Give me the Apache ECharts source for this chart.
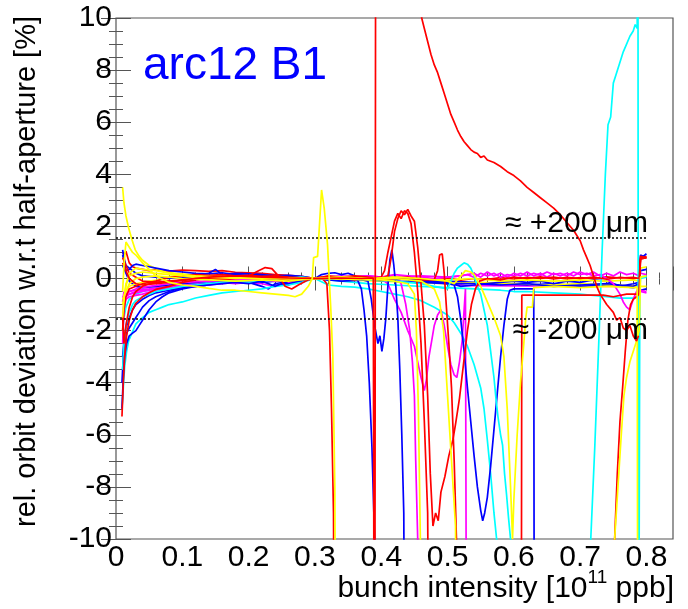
<!DOCTYPE html>
<html><head><meta charset="utf-8">
<script src="https://cdn.jsdelivr.net/npm/echarts@6/dist/echarts.min.js"></script>
<style>html,body{margin:0;padding:0;background:#fff}#c{width:688px;height:609px}</style>
</head><body><div id="c"></div>
<script>
// ---------- data (x = bunch intensity [1e11 ppb], y = rel. orbit deviation [%]) ----------
const xTicks = [0, 0.1, 0.2, 0.3, 0.4, 0.5, 0.6, 0.7, 0.8];
const yTicks = [-10, -8, -6, -4, -2, 0, 2, 4, 6, 8, 10];
const thresholds = [1.55, -1.55];
const thresholdEnd = 0.8;
const thresholdLabels = ['\u2248 +200 \u03bcm', '\u2248 -200 \u03bcm'];

const red1 = [[0.01,0.6],[0.015,0.3],[0.02,0.0],[0.03,-0.2],[0.04,-0.25],[0.06,-0.2],[0.08,-0.15],[0.1,-0.05],[0.14,0.05],[0.18,0.1],[0.22,0.05],[0.26,0.02],[0.3,0.0],[0.34,0.02],[0.37,0.0],[0.388,0.02],[0.39,-25],[0.392,25],[0.455,12],[0.461,10],[0.465,9.6],[0.47,9.1],[0.475,8.6],[0.48,8.2],[0.485,7.9],[0.49,7.5],[0.495,7.1],[0.5,6.7],[0.505,6.3],[0.51,6.0],[0.515,5.7],[0.52,5.45],[0.525,5.25],[0.53,5.1],[0.535,4.95],[0.54,4.85],[0.545,4.8],[0.55,4.65],[0.555,4.7],[0.56,4.55],[0.57,4.45],[0.58,4.3],[0.59,4.1],[0.6,3.95],[0.61,3.75],[0.62,3.5],[0.63,3.3],[0.64,3.1],[0.65,2.9],[0.66,2.7],[0.67,2.45],[0.68,2.15],[0.69,1.85],[0.7,1.45],[0.705,1.1],[0.71,0.8],[0.715,0.5],[0.72,0.1],[0.725,-0.3],[0.73,-0.6],[0.74,-1.0],[0.75,-1.3],[0.755,-1.6],[0.76,-1.5],[0.765,-1.9],[0.77,-2.0],[0.775,-1.8],[0.78,-2.2],[0.785,-2.4],[0.788,-2.2]];
const red2 = [[0.009,-5.3],[0.011,-4.0],[0.013,-3.0],[0.016,-2.2],[0.02,-1.6],[0.025,-1.2],[0.03,-0.95],[0.04,-0.7],[0.05,-0.55],[0.06,-0.42],[0.08,-0.3],[0.1,-0.15],[0.12,-0.05],[0.14,0.0],[0.16,0.03],[0.18,0.05],[0.2,0.1],[0.215,0.3],[0.225,0.42],[0.235,0.38],[0.245,0.1],[0.255,-0.3],[0.265,-0.4],[0.275,-0.25],[0.29,-0.05],[0.3,0.0],[0.32,0.1],[0.34,0.05],[0.36,0.1],[0.38,0.05],[0.4,0.0],[0.41,0.1],[0.415,0.8],[0.42,1.8],[0.425,2.3],[0.43,2.6],[0.435,2.45],[0.44,2.65],[0.445,2.4],[0.45,2.2],[0.455,1.2],[0.46,-0.2],[0.465,-1.8],[0.47,-4.5],[0.474,-7.5],[0.478,-9.5],[0.482,-9.0],[0.486,-9.3],[0.49,-8.2],[0.496,-7.6],[0.502,-6.8],[0.508,-6.2],[0.512,-5.6],[0.518,-4.6],[0.524,-3.3],[0.53,-2.0],[0.536,-1.0],[0.542,-0.4],[0.548,-0.1],[0.56,0.0],[0.58,-0.05],[0.6,0.05],[0.62,0.0],[0.64,0.06],[0.66,-0.02],[0.68,0.04],[0.7,0.0],[0.72,0.05],[0.74,-0.03],[0.76,0.04],[0.78,0.0],[0.789,0.02],[0.791,0.75],[0.8,0.8]];
const red3 = [[0.01,0.8],[0.015,0.5],[0.02,0.2],[0.03,0.05],[0.04,-0.1],[0.06,-0.15],[0.08,-0.1],[0.1,-0.05],[0.14,0.0],[0.18,0.02],[0.22,0.0],[0.26,0.03],[0.3,0.0],[0.34,0.02],[0.38,-0.02],[0.4,0.05],[0.405,0.3],[0.41,1.0],[0.415,1.6],[0.42,2.2],[0.425,2.5],[0.43,2.3],[0.435,2.6],[0.44,2.5],[0.445,2.1],[0.45,1.0],[0.455,-0.5],[0.46,-2.5],[0.465,-5.5],[0.47,-9],[0.473,-20]];
const red4 = [[0.01,-2.0],[0.012,-1.2],[0.015,-0.7],[0.02,-0.4],[0.03,-0.3],[0.04,-0.2],[0.06,-0.1],[0.08,0.05],[0.1,0.1],[0.12,0.15],[0.14,0.12],[0.16,0.15],[0.18,0.1],[0.2,0.12],[0.22,0.08],[0.24,0.1],[0.26,0.05],[0.28,0.02],[0.3,0.0],[0.32,0.05],[0.34,-0.02],[0.36,0.03],[0.38,0.0],[0.4,-0.05],[0.42,0.0],[0.44,0.05],[0.46,-0.05],[0.48,-0.05],[0.485,0.3],[0.488,0.9],[0.492,0.95],[0.495,0.2],[0.498,-1.0],[0.502,-2.5],[0.506,-4.2],[0.51,-7],[0.514,-10.5],[0.516,-20],[0.611,-20],[0.612,-0.64],[0.735,-0.64],[0.75,-0.7],[0.77,-0.6],[0.789,-0.6],[0.791,0.85],[0.8,0.8]];
const red5 = [[0.01,-1.5],[0.012,-2.5],[0.015,-1.8],[0.02,-1.1],[0.025,-0.7],[0.03,-0.5],[0.04,-0.3],[0.05,-0.2],[0.06,-0.15],[0.08,-0.1],[0.1,-0.08],[0.12,0.0],[0.14,0.02],[0.16,-0.05],[0.18,0.0],[0.2,0.03],[0.22,-0.02],[0.24,0.0],[0.26,-0.05],[0.28,0.0],[0.3,0.02],[0.31,0.05],[0.318,-0.2],[0.322,-2],[0.325,-5],[0.328,-9],[0.33,-20],[0.75,-20],[0.752,-10],[0.756,-7.5],[0.76,-5.5],[0.764,-4.2],[0.768,-2.8],[0.772,-1.6],[0.776,-1.0],[0.78,-0.8],[0.785,-0.7],[0.789,-0.6],[0.791,0.75],[0.8,0.8]];
const red6 = [[0.01,1.0],[0.012,0.9],[0.015,1.05],[0.02,0.6],[0.025,0.45],[0.03,0.4],[0.04,0.35],[0.05,0.3],[0.06,0.33],[0.08,0.28],[0.1,0.32],[0.12,0.3],[0.14,0.27],[0.16,0.3],[0.18,0.24],[0.2,0.22],[0.22,0.2],[0.24,0.15],[0.26,0.12],[0.28,0.08],[0.3,0.0],[0.32,-0.02],[0.34,0.03],[0.36,-0.05],[0.38,0.02],[0.4,-0.03],[0.42,0.05],[0.44,-0.02],[0.46,0.0],[0.48,-0.05],[0.5,0.02],[0.52,-0.06],[0.54,0.0],[0.56,-0.03],[0.58,0.03],[0.6,-0.02],[0.62,0.04],[0.64,0.0],[0.66,0.05],[0.68,-0.02],[0.7,0.03],[0.72,0.0],[0.74,0.06],[0.76,0.02],[0.78,0.04],[0.789,0.0],[0.791,0.8],[0.8,0.85]];

const blue1 = [[0.01,0.9],[0.012,0.7],[0.015,0.3],[0.02,0.35],[0.025,0.5],[0.03,0.55],[0.04,0.5],[0.05,0.45],[0.06,0.4],[0.08,0.3],[0.1,0.25],[0.12,0.2],[0.14,0.18],[0.16,0.22],[0.18,0.15],[0.2,0.12],[0.22,0.1],[0.24,0.05],[0.26,0.08],[0.28,0.02],[0.3,0.0],[0.31,0.15],[0.32,0.2],[0.33,0.22],[0.34,0.15],[0.35,0.2],[0.36,0.1],[0.365,-0.1],[0.37,-0.4],[0.374,-1.2],[0.378,-2.2],[0.382,-4],[0.386,-6.5],[0.39,-10],[0.392,-20]];
const blue2 = [[0.009,-5.0],[0.011,-3.8],[0.013,-3.0],[0.016,-2.5],[0.02,-2.2],[0.025,-2.1],[0.03,-2.0],[0.035,-1.8],[0.04,-1.6],[0.05,-1.2],[0.06,-0.9],[0.07,-0.7],[0.08,-0.55],[0.1,-0.4],[0.12,-0.3],[0.14,-0.25],[0.16,-0.2],[0.18,-0.15],[0.2,-0.2],[0.22,-0.1],[0.24,-0.3],[0.25,-0.2],[0.26,-0.1],[0.28,-0.05],[0.3,0.0],[0.32,0.05],[0.34,0.0],[0.36,0.02],[0.38,-0.1],[0.385,-0.8],[0.39,-1.8],[0.395,-2.5],[0.398,-2.2],[0.401,-2.8],[0.404,-2.3],[0.407,-1.5],[0.41,-0.3],[0.413,0.7],[0.416,1.1],[0.419,0.5],[0.422,-0.3],[0.425,-1.5],[0.428,-3.5],[0.431,-6],[0.434,-9],[0.436,-20]];
const blue3 = [[0.01,-3.0],[0.012,-2.4],[0.015,-1.9],[0.02,-1.5],[0.025,-1.2],[0.03,-1.0],[0.04,-0.8],[0.05,-0.65],[0.06,-0.55],[0.08,-0.45],[0.1,-0.35],[0.12,-0.25],[0.14,-0.2],[0.16,-0.1],[0.18,-0.05],[0.2,0.0],[0.22,0.05],[0.24,0.02],[0.26,0.06],[0.28,0.03],[0.3,0.0],[0.34,0.05],[0.38,0.02],[0.42,0.0],[0.46,-0.1],[0.48,-0.15],[0.5,-0.2],[0.51,-0.25],[0.515,-0.7],[0.52,-1.6],[0.525,-2.8],[0.53,-4.2],[0.535,-5.5],[0.54,-6.8],[0.545,-8.0],[0.55,-8.9],[0.553,-9.3],[0.556,-9.0],[0.56,-8.4],[0.565,-7.2],[0.57,-5.8],[0.575,-4.4],[0.58,-3.0],[0.585,-1.8],[0.59,-0.8],[0.594,-0.45],[0.6,-0.4],[0.63,-0.4],[0.631,-20]];
const blue4 = [[0.01,1.1],[0.012,0.8],[0.015,0.5],[0.02,0.4],[0.03,0.2],[0.04,0.1],[0.06,0.05],[0.08,0.0],[0.1,0.05],[0.12,0.1],[0.14,0.2],[0.15,0.35],[0.16,0.15],[0.18,0.2],[0.2,0.18],[0.22,0.15],[0.24,0.1],[0.26,0.12],[0.28,0.08],[0.3,0.0],[0.32,-0.05],[0.34,0.05],[0.36,0.0],[0.38,-0.05],[0.4,0.0],[0.42,-0.05],[0.44,0.0],[0.46,-0.05],[0.48,-0.1],[0.5,-0.15],[0.52,-0.3],[0.54,-0.25],[0.56,-0.2],[0.58,-0.15],[0.6,-0.1],[0.62,-0.15],[0.64,-0.1],[0.66,-0.2],[0.68,-0.1],[0.7,-0.15],[0.72,-0.05],[0.74,-0.1],[0.76,-0.3],[0.78,-0.2],[0.789,-0.15],[0.791,0.9],[0.795,0.85],[0.8,0.95]];
const blue5 = [[0.009,-4.0],[0.011,-3.0],[0.013,-2.5],[0.016,-2.1],[0.02,-1.9],[0.025,-1.7],[0.03,-1.5],[0.035,-1.3],[0.04,-1.1],[0.05,-0.85],[0.06,-0.7],[0.08,-0.5],[0.1,-0.35],[0.12,-0.3],[0.14,-0.25],[0.16,-0.15],[0.18,-0.1],[0.2,-0.15],[0.22,-0.3],[0.23,-0.4],[0.24,-0.2],[0.26,-0.25],[0.28,-0.05],[0.3,0.0],[0.34,-0.1],[0.38,-0.05],[0.42,-0.1],[0.46,-0.15],[0.5,-0.2],[0.54,-0.2],[0.58,-0.25],[0.62,-0.2],[0.66,-0.3],[0.7,-0.25],[0.74,-0.2],[0.76,-0.25],[0.78,-0.3],[0.789,-0.2],[0.791,0.3],[0.8,0.35]];
const blue6 = [[0.01,0.5],[0.015,0.2],[0.02,-0.1],[0.03,-0.3],[0.04,-0.35],[0.06,-0.3],[0.08,-0.25],[0.1,-0.2],[0.12,-0.15],[0.14,-0.1],[0.16,-0.05],[0.18,0.0],[0.2,-0.05],[0.22,-0.15],[0.24,-0.1],[0.26,-0.2],[0.28,-0.1],[0.3,0.0],[0.34,0.0],[0.38,-0.05],[0.42,0.0],[0.46,-0.05],[0.5,-0.1],[0.54,-0.15],[0.58,-0.2],[0.62,-0.25],[0.66,-0.2],[0.7,-0.3],[0.74,-0.25],[0.78,-0.35],[0.789,-0.3],[0.791,-0.45],[0.8,-0.4]];

const yellow1 = [[0.01,3.5],[0.012,2.9],[0.015,2.4],[0.019,1.95],[0.024,1.5],[0.029,1.1],[0.035,0.85],[0.04,0.7],[0.05,0.5],[0.06,0.38],[0.075,0.25],[0.09,0.2],[0.11,0.15],[0.13,0.12],[0.16,0.1],[0.2,0.08],[0.24,0.05],[0.28,0.03],[0.3,0.0],[0.34,0.0],[0.38,-0.05],[0.42,0.05],[0.46,0.0],[0.5,-0.05],[0.54,0.0],[0.58,-0.1],[0.62,-0.05],[0.66,-0.1],[0.7,-0.05],[0.74,-0.1],[0.78,-0.05],[0.789,-0.1],[0.791,0.4],[0.8,0.45]];
const yellow2 = [[0.01,-0.5],[0.012,0.5],[0.015,1.4],[0.02,1.2],[0.025,1.0],[0.03,0.9],[0.04,0.6],[0.05,0.35],[0.06,0.1],[0.08,-0.15],[0.1,-0.25],[0.12,-0.3],[0.14,-0.38],[0.16,-0.45],[0.18,-0.45],[0.2,-0.5],[0.22,-0.55],[0.24,-0.6],[0.26,-0.65],[0.27,-0.7],[0.28,-0.6],[0.29,-0.3],[0.296,0.0],[0.298,0.8],[0.304,0.85],[0.31,3.4],[0.314,2.7],[0.319,1.3],[0.324,-1.2],[0.327,-3],[0.33,-8],[0.332,-20]];
const yellow3 = [[0.01,-1.0],[0.015,-0.3],[0.02,0.2],[0.03,0.4],[0.04,0.35],[0.06,0.3],[0.08,0.2],[0.1,0.15],[0.12,0.1],[0.16,0.05],[0.2,0.05],[0.24,0.0],[0.28,0.02],[0.3,0.0],[0.34,0.05],[0.38,0.0],[0.42,-0.1],[0.44,-0.2],[0.45,-0.6],[0.453,-2],[0.456,-5],[0.459,-10],[0.461,-20]];
const yellow4 = [[0.01,-1.5],[0.012,-0.8],[0.015,-0.2],[0.02,0.1],[0.03,0.2],[0.04,0.25],[0.06,0.2],[0.08,0.15],[0.1,0.1],[0.14,0.05],[0.18,0.0],[0.22,0.02],[0.26,-0.02],[0.3,0.0],[0.34,-0.02],[0.38,-0.05],[0.42,0.0],[0.46,-0.1],[0.48,-0.4],[0.488,-0.9],[0.494,-2.0],[0.5,-4.5],[0.506,-7],[0.512,-9.5],[0.515,-20],[0.75,-20],[0.752,-10],[0.757,-8],[0.762,-6],[0.766,-4.5],[0.77,-3.8],[0.775,-3.2],[0.78,-2.8],[0.785,-2.4],[0.789,-2.0],[0.791,0.05],[0.8,0.1]];
const yellow5 = [[0.01,-0.8],[0.015,-0.5],[0.02,-0.2],[0.03,0.0],[0.04,0.05],[0.06,0.1],[0.08,0.05],[0.1,0.0],[0.14,-0.05],[0.18,-0.1],[0.22,-0.05],[0.26,-0.1],[0.3,0.0],[0.34,0.05],[0.38,0.0],[0.42,0.05],[0.46,0.0],[0.5,-0.1],[0.51,-0.2],[0.52,0.1],[0.527,0.3],[0.535,0.25],[0.54,0.15],[0.55,-0.3],[0.56,-0.9],[0.57,-1.5],[0.58,-2.2],[0.585,-3.0],[0.59,-5],[0.595,-8],[0.598,-10],[0.6,-8.5],[0.605,-6],[0.61,-4],[0.615,-2.5],[0.618,-1.5],[0.62,-1.1],[0.628,-1.1],[0.63,-0.35],[0.66,-0.3],[0.7,-0.35],[0.74,-0.3],[0.78,-0.35],[0.786,-0.35],[0.787,-20]];
const yellow6 = [[0.01,-2.0],[0.012,-1.0],[0.015,-0.5],[0.02,-0.3],[0.03,-0.2],[0.05,-0.1],[0.08,0.0],[0.12,0.05],[0.16,0.0],[0.2,-0.05],[0.24,0.0],[0.28,0.0],[0.3,0.0],[0.35,-0.05],[0.4,-0.1],[0.45,-0.15],[0.5,-0.2],[0.55,-0.15],[0.6,-0.2],[0.65,-0.25],[0.7,-0.2],[0.75,-0.25],[0.789,-0.3],[0.791,-0.3],[0.8,-0.3]];

const magenta1 = [[0.01,-2.5],[0.012,-1.2],[0.015,-0.8],[0.02,-0.7],[0.03,-0.65],[0.04,-0.6],[0.06,-0.45],[0.08,-0.4],[0.1,-0.35],[0.12,-0.3],[0.14,-0.25],[0.16,-0.2],[0.18,-0.15],[0.2,-0.1],[0.22,-0.05],[0.24,-0.1],[0.26,-0.05],[0.28,0.0],[0.3,0.0],[0.34,0.05],[0.38,0.1],[0.4,0.05],[0.42,0.1],[0.43,-0.2],[0.437,-1.0],[0.443,-2.0],[0.447,-3.2],[0.45,-4.5],[0.452,-7],[0.455,-10],[0.457,-20]];
const magenta2 = [[0.01,-0.9],[0.012,-0.5],[0.015,-0.7],[0.02,-0.6],[0.03,-0.5],[0.04,-0.45],[0.06,-0.4],[0.08,-0.35],[0.1,-0.3],[0.12,-0.25],[0.14,-0.2],[0.16,-0.15],[0.18,-0.2],[0.2,-0.15],[0.22,-0.1],[0.24,-0.05],[0.26,0.0],[0.28,-0.05],[0.3,0.0],[0.34,0.05],[0.38,0.0],[0.4,0.0],[0.41,-0.2],[0.42,-0.8],[0.43,-1.3],[0.44,-2.0],[0.45,-2.6],[0.455,-3.2],[0.46,-3.8],[0.465,-4.3],[0.468,-3.9],[0.472,-3.0],[0.476,-2.4],[0.48,-1.8],[0.485,-1.4],[0.49,-1.2],[0.495,-1.8],[0.5,-2.6],[0.505,-3.3],[0.51,-3.7],[0.514,-3.8],[0.518,-3.2],[0.522,-2.4],[0.525,-1.2],[0.527,-0.4],[0.529,-20]];
const magenta3 = [[0.01,-1.5],[0.012,-0.9],[0.015,-0.6],[0.02,-0.5],[0.03,-0.45],[0.05,-0.4],[0.08,-0.3],[0.1,-0.25],[0.14,-0.2],[0.18,-0.15],[0.22,-0.2],[0.24,-0.3],[0.26,-0.15],[0.28,-0.1],[0.3,0.0],[0.34,0.0],[0.38,0.05],[0.42,0.0],[0.46,-0.05],[0.5,-0.2],[0.53,-0.27],[0.789,-0.3],[0.791,-0.5],[0.8,-0.55]];
const magenta4 = [[0.01,-0.8],[0.015,-0.6],[0.02,-0.5],[0.03,-0.4],[0.05,-0.3],[0.08,-0.2],[0.1,-0.15],[0.14,-0.1],[0.18,-0.05],[0.22,0.0],[0.26,0.0],[0.3,0.0],[0.32,0.05],[0.34,0.1],[0.36,0.05],[0.38,0.1],[0.4,0.05],[0.42,0.15],[0.44,0.1],[0.46,0.05],[0.48,0.0],[0.5,0.05],[0.52,0.1],[0.53,0.15],[0.54,0.05],[0.55,0.2],[0.56,0.1],[0.57,0.2],[0.58,0.05],[0.59,0.15],[0.6,0.1],[0.61,0.2],[0.62,0.1],[0.63,0.2],[0.64,0.12],[0.65,0.25],[0.66,0.15],[0.67,0.2],[0.68,0.1],[0.69,0.25],[0.7,0.15],[0.71,0.2],[0.72,0.1],[0.73,0.15],[0.74,0.0],[0.75,-0.2],[0.76,-0.6],[0.765,-0.9],[0.77,-1.1],[0.775,-1.2],[0.78,-0.8],[0.785,-0.5],[0.789,-0.3],[0.791,-0.45],[0.8,-0.5]];
const magenta5 = [[0.01,-0.7],[0.02,-0.6],[0.04,-0.5],[0.06,-0.4],[0.1,-0.3],[0.14,-0.2],[0.18,-0.15],[0.22,-0.1],[0.26,-0.05],[0.3,0.0],[0.34,-0.05],[0.38,0.0],[0.42,0.05],[0.46,0.1],[0.5,0.05],[0.52,0.1],[0.54,0.2],[0.55,0.05],[0.56,0.25],[0.57,0.1],[0.58,0.2],[0.59,0.05],[0.6,0.2],[0.61,0.1],[0.62,0.25],[0.63,0.1],[0.64,0.2],[0.65,0.05],[0.66,0.2],[0.67,0.1],[0.68,0.2],[0.69,0.1],[0.7,0.25],[0.71,0.15],[0.72,0.25],[0.73,0.1],[0.74,0.2],[0.75,0.1],[0.76,0.25],[0.77,0.15],[0.78,0.2],[0.789,0.1],[0.791,0.2],[0.8,0.15]];

const cyan1 = [[0.009,-5.0],[0.011,-4.2],[0.013,-3.4],[0.016,-2.8],[0.019,-2.4],[0.024,-2.1],[0.03,-1.74],[0.04,-1.5],[0.05,-1.3],[0.06,-1.2],[0.07,-1.1],[0.08,-1.0],[0.09,-0.95],[0.1,-0.9],[0.12,-0.75],[0.14,-0.65],[0.16,-0.55],[0.18,-0.5],[0.2,-0.45],[0.22,-0.4],[0.24,-0.3],[0.26,-0.25],[0.28,-0.15],[0.3,0.0],[0.32,-0.25],[0.34,-0.3],[0.36,-0.33],[0.38,-0.4],[0.4,-0.5],[0.42,-0.6],[0.44,-0.7],[0.46,-0.85],[0.48,-1.1],[0.5,-1.4],[0.51,-1.7],[0.52,-2.1],[0.53,-2.6],[0.54,-3.3],[0.55,-4.2],[0.555,-5],[0.56,-6.2],[0.565,-7.5],[0.57,-9],[0.574,-10],[0.576,-20]];
const cyan2 = [[0.01,-3.5],[0.012,-2.5],[0.015,-1.8],[0.02,-1.3],[0.025,-1.0],[0.03,-0.85],[0.04,-0.7],[0.05,-0.6],[0.06,-0.5],[0.08,-0.4],[0.1,-0.3],[0.12,-0.25],[0.14,-0.2],[0.16,-0.15],[0.18,-0.1],[0.2,-0.15],[0.22,-0.1],[0.24,-0.05],[0.26,0.0],[0.28,0.05],[0.3,0.0],[0.34,0.0],[0.38,-0.05],[0.42,-0.1],[0.46,-0.2],[0.48,-0.3],[0.5,-0.4],[0.505,-0.1],[0.51,0.2],[0.515,0.4],[0.52,0.5],[0.525,0.6],[0.53,0.55],[0.535,0.4],[0.54,0.1],[0.545,-0.3],[0.55,-0.6],[0.555,-1.2],[0.56,-1.8],[0.565,-2.8],[0.57,-3.8],[0.573,-4.6],[0.576,-5.3],[0.58,-6.0],[0.583,-6.4],[0.586,-7.5],[0.589,-8.3],[0.592,-9.2],[0.595,-10],[0.597,-20],[0.714,-20],[0.716,-10],[0.722,-6.5],[0.728,-2.5],[0.733,1],[0.738,4],[0.742,5.9],[0.746,6.2],[0.75,7.5],[0.755,7.9],[0.76,8.3],[0.765,8.7],[0.77,9.0],[0.775,9.3],[0.78,9.5],[0.783,9.75],[0.786,9.6],[0.787,20],[0.788,-20],[0.79,0.05],[0.8,0.1]];
const cyan3 = [[0.01,-2.0],[0.012,-1.5],[0.015,-1.1],[0.02,-0.8],[0.03,-0.6],[0.04,-0.5],[0.06,-0.4],[0.08,-0.3],[0.1,-0.25],[0.14,-0.15],[0.18,-0.1],[0.22,-0.05],[0.26,0.0],[0.3,0.0],[0.34,-0.1],[0.38,-0.2],[0.42,-0.25],[0.46,-0.3],[0.5,-0.35],[0.54,-0.4],[0.58,-0.45],[0.6,-0.5],[0.62,-0.5],[0.66,-0.55],[0.7,-0.6],[0.74,-0.7],[0.76,-0.75],[0.78,-0.75],[0.789,-0.7],[0.791,0.0],[0.8,0.05]];

// ---------- chart ----------
const RED = '#ff0000', BLUE = '#0000ff', YEL = '#ffff00', MAG = '#ff00ff', CYA = '#00ffff';
const seriesDefs = [
  [cyan3, CYA], [magenta5, MAG], [magenta3, MAG], [blue6, BLUE], [yellow6, YEL],
  [blue5, BLUE], [cyan1, CYA], [magenta1, MAG], [magenta2, MAG], [blue3, BLUE],
  [red6, RED], [blue4, BLUE], [yellow1, YEL], [magenta4, MAG], [cyan2, CYA],
  [blue1, BLUE], [blue2, BLUE], [red3, RED], [red2, RED], [red4, RED], [red5, RED],
  [yellow3, YEL], [yellow4, YEL], [yellow5, YEL], [red1, RED], [yellow2, YEL]
];
const FONT = '"Liberation Sans", Arial, sans-serif';
const AX = '#555';
const series = seriesDefs.map(([d, c]) => ({
  type: 'line', data: d, symbol: 'none', clip: true, silent: true,
  lineStyle: { color: c, width: 1.7 }, itemStyle: { color: c }, z: 2
}));
thresholds.forEach(t => series.push({
  type: 'line', data: [[0, t], [thresholdEnd, t]], symbol: 'none', silent: true,
  lineStyle: { color: '#000', width: 1.5, type: [2, 2] }, z: 3
}));

const fmtX = v => (v > 0.81 ? '' : String(Math.round(v * 10) / 10));
function xAx(pos, interval, len, labels) {
  return { type: 'value', min: 0, max: 0.84, interval, position: pos,
    axisLine: { show: false }, splitLine: { show: false },
    axisTick: { show: true, inside: true, length: len, lineStyle: { color: AX, width: 1 } },
    axisLabel: labels ? { show: true, formatter: fmtX, fontSize: 30, color: '#000', fontFamily: FONT, margin: 4 } : { show: false } };
}
function yAx(pos, interval, len, labels) {
  return { type: 'value', min: -10, max: 10, interval, position: pos,
    axisLine: { show: false }, splitLine: { show: false },
    axisTick: { show: true, inside: true, length: len, lineStyle: { color: AX, width: 1 } },
    axisLabel: labels ? { show: true, fontSize: 30, color: '#000', fontFamily: FONT, margin: 4 } : { show: false } };
}

const chart = echarts.init(document.getElementById('c'), null, { renderer: 'canvas' });
chart.setOption({
  animation: false,
  backgroundColor: '#fff',
  grid: { left: 116, right: 15, top: 18, bottom: 70, show: true, borderColor: AX, borderWidth: 1.2, backgroundColor: 'transparent' },
  xAxis: [xAx('bottom', 0.1, 12, true), xAx('bottom', 0.02, 6, false), xAx('top', 0.1, 12, false), xAx('top', 0.02, 6, false)],
  yAxis: [yAx('left', 2, 15, true), yAx('left', 0.5, 7, false), yAx('right', 2, 15, false), yAx('right', 0.5, 7, false)],
  series,
  graphic: [
    { type: 'text', x: 143, y: 66, style: { text: 'arc12 B1', fill: '#0000ff', fontSize: 46, fontFamily: FONT, verticalAlign: 'middle' }, z: 10 },
    { type: 'text', x: 648, y: 224, style: { text: thresholdLabels[0], fill: '#000', fontSize: 30, fontFamily: FONT, align: 'right', verticalAlign: 'middle' }, z: 10 },
    { type: 'text', x: 648, y: 331, style: { text: thresholdLabels[1], fill: '#000', fontSize: 30, fontFamily: FONT, align: 'right', verticalAlign: 'middle' }, z: 10 },
    { type: 'text', x: 674, y: 589, style: { text: '{a|bunch intensity [10}{s|11}{a| ppb]}', align: 'right', verticalAlign: 'middle',
        rich: { a: { fontSize: 30, fontFamily: FONT, fill: '#000', lineHeight: 42 }, s: { fontSize: 19, fontFamily: FONT, fill: '#000', verticalAlign: 'top', lineHeight: 19 } } }, z: 10 },
    { type: 'text', x: 27, y: 16, rotation: Math.PI / 2, style: { text: 'rel. orbit deviation w.r.t half-aperture [%]', fill: '#000', fontSize: 29, fontFamily: FONT, align: 'right', verticalAlign: 'middle' }, z: 10 }
  ]
});
</script></body></html>
